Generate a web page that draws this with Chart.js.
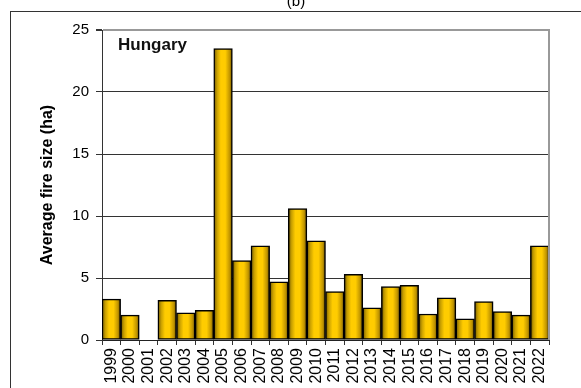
<!DOCTYPE html>
<html>
<head>
<meta charset="utf-8">
<script src="https://cdn.jsdelivr.net/npm/chart.js@4.4.0/dist/chart.umd.min.js"></script>
<style>
  html, body { margin: 0; padding: 0; background: #fff; overflow: hidden; }
  canvas { display: block; }
</style>
</head>
<body>
<canvas id="fireChart" width="581" height="388"></canvas>
<script>
// Rata-rata luas kebakaran per tahun (ha)
const years = ['1999', '2000', '2001', '2002', '2003', '2004', '2005', '2006', '2007', '2008', '2009', '2010',
               '2011', '2012', '2013', '2014', '2015', '2016', '2017', '2018', '2019', '2020', '2021', '2022'];
const avgFireSize = [3.3, 2.0, 0, 3.2, 2.2, 2.4, 23.5, 6.4, 7.6, 4.7, 10.6, 8.0,
                     3.9, 5.3, 2.6, 4.3, 4.4, 2.1, 3.4, 1.7, 3.1, 2.3, 2.0, 7.6];
const yTicks = [0, 5, 10, 15, 20, 25];

const FONT = "'Liberation Sans', Arial, Helvetica, sans-serif";

// Gradasi kuning-emas di tiap batang + bingkai luar, judul dan label negara
const decorPlugin = {
    id: 'decor',
    beforeDraw(chart) {
        const ctx = chart.ctx;
        ctx.save();
        ctx.fillStyle = '#fff';
        ctx.fillRect(0, 0, chart.width, chart.height);
        ctx.strokeStyle = '#333';
        ctx.lineWidth = 1;
        ctx.strokeRect(10.5, 11.5, 800, 600);
        ctx.fillStyle = '#000';
        ctx.font = '15px ' + FONT;
        ctx.textAlign = 'center';
        ctx.textBaseline = 'alphabetic';
        ctx.fillText('(b)', 296, 6);
        ctx.restore();
    },
    beforeDatasetsDraw(chart) {
        const ctx = chart.ctx;
        chart.getDatasetMeta(0).data.forEach(bar => {
            const left = bar.x - bar.width / 2;
            const g = ctx.createLinearGradient(left, 0, left + bar.width, 0);
            g.addColorStop(0, '#6e5600');
            g.addColorStop(0.18, '#c9a000');
            g.addColorStop(0.38, '#ffcc00');
            g.addColorStop(0.62, '#ffcc00');
            g.addColorStop(0.85, '#c29600');
            g.addColorStop(1, '#6a5000');
            // tiap batang dapat objek opsi sendiri supaya gradasinya tidak tertimpa
            bar.options = Object.assign({}, bar.options, { backgroundColor: g });
        });
    },
    afterDraw(chart) {
        const ctx = chart.ctx;
        const a = chart.chartArea;
        ctx.save();
        // garis tepi kanan area plot
        ctx.strokeStyle = '#999';
        ctx.lineWidth = 2;
        ctx.beginPath();
        ctx.moveTo(a.right, a.top - 1);
        ctx.lineTo(a.right, a.bottom);
        ctx.stroke();
        ctx.fillStyle = '#111';
        ctx.font = 'bold 17px ' + FONT;
        ctx.textAlign = 'left';
        ctx.fillText('Hungary', a.left + 16, 50);
        ctx.restore();
    }
};

new Chart(document.getElementById('fireChart'), {
    type: 'bar',
    data: {
        labels: years,
        datasets: [{
            data: avgFireSize,
            backgroundColor: '#ffcc00',
            borderColor: '#000',
            borderWidth: 1.5,
            borderSkipped: false,
            barPercentage: 1,
            categoryPercentage: 1
        }]
    },
    options: {
        responsive: false,
        animation: false,
        layout: { padding: { top: 30, right: 32, left: 0, bottom: 0 } },
        plugins: {
            legend: { display: false },
            tooltip: { enabled: false }
        },
        scales: {
            x: {
                afterFit(scale) { scale.height = 48; },
                grid: {
                    offset: true,
                    drawOnChartArea: false,
                    tickLength: 5,
                    tickColor: '#333'
                },
                border: { color: '#222', width: 1 },
                ticks: {
                    autoSkip: false,
                    minRotation: 90,
                    maxRotation: 90,
                    padding: 3,
                    color: '#000',
                    font: { family: FONT, size: 16 }
                }
            },
            y: {
                min: 0,
                max: 25,
                afterFit(scale) { scale.width = 102; },
                afterBuildTicks(scale) { scale.ticks = yTicks.map(v => ({ value: v })); },
                grid: {
                    color: c => (c.tick && c.tick.value === 25 ? '#999' : '#333'),
                    lineWidth: c => (c.tick && c.tick.value === 25 ? 2 : 1),
                    tickLength: 6,
                    tickColor: '#333'
                },
                border: { color: '#333', width: 1 },
                ticks: {
                    padding: 7,
                    color: '#000',
                    font: { family: FONT, size: 15 }
                },
                title: {
                    display: true,
                    text: 'Average fire size (ha)',
                    color: '#000',
                    padding: { top: 38, bottom: 0 },
                    font: { family: FONT, size: 16, weight: 'bold' }
                }
            }
        }
    },
    plugins: [decorPlugin]
});
</script>
</body>
</html>
